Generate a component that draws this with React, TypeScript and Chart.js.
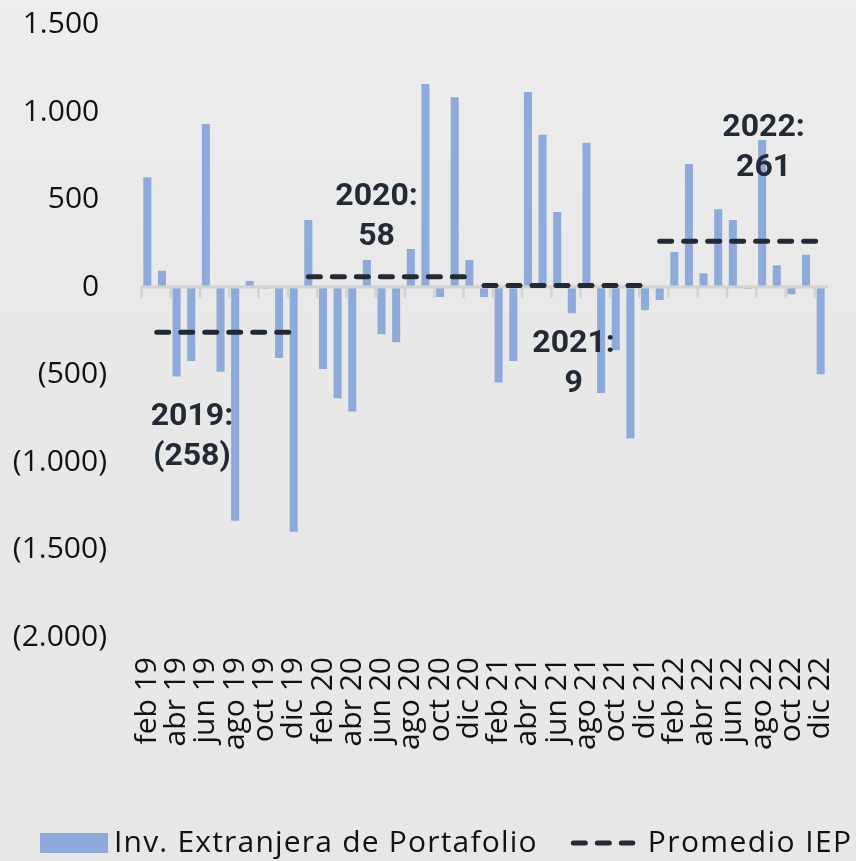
import React, { useEffect, useRef } from 'react';
import { Chart, registerables } from 'chart.js';

Chart.register(...registerables);

const categories = [
  'feb 19', 'mar 19', 'abr 19', 'may 19', 'jun 19', 'jul 19', 'ago 19', 'sep 19', 'oct 19', 'nov 19', 'dic 19',
  'ene 20', 'feb 20', 'mar 20', 'abr 20', 'may 20', 'jun 20', 'jul 20', 'ago 20', 'sep 20', 'oct 20', 'nov 20', 'dic 20',
  'ene 21', 'feb 21', 'mar 21', 'abr 21', 'may 21', 'jun 21', 'jul 21', 'ago 21', 'sep 21', 'oct 21', 'nov 21', 'dic 21',
  'ene 22', 'feb 22', 'mar 22', 'abr 22', 'may 22', 'jun 22', 'jul 22', 'ago 22', 'sep 22', 'oct 22', 'nov 22', 'dic 22',
];

const flows = [
  627, 93, -512, -423, 931, -484, -1335, 34, -8, -406, -1398,
  383, -469, -636, -712, 154, -270, -316, 217, 1160, -57, 1084, 154,
  -57, -545, -423, 1114, 870, 429, -150, 825, -606, -362, -865, -133,
  -74, 200, 703, 78, 444, 383, -10, 840, 124, -42, 185, -499,
];

const years = ['2019', '2020', '2021', '2022'];
const yearAverages = [-258, 58, 9, 261];

// where each year's average label sits (category index, value)
const annotationX = [3.05, 15.66, 29.12, 42.1];
const annotationY = [-743, 514, -326, 909];

const yMin = -2000;
const yMax = 1500;
const yStep = 500;

const barLabel = 'Inv. Extranjera de Portafolio';
const lineLabel = 'Promedio IEP';

const BAR_COLOR = '#8eaadb';
const LINE_COLOR = '#222a35';
const TEXT_COLOR = '#111111';
const FONT = "'Open Sans'";

function fmt(v: number): string {
  const s = String(Math.abs(v)).replace(/\B(?=(\d{3})+(?!\d))/g, '.');
  return v < 0 ? '(' + s + ')' : s;
}

const zeroAxisPlugin = {
  id: 'zeroAxis',
  afterDatasetDraw(chart: any, args: any) {
    if (args.index !== 0) return;
    const { ctx, chartArea, scales } = chart;
    const x = scales.x;
    const y0 = scales.y.getPixelForValue(0);
    ctx.save();
    ctx.strokeStyle = '#d2d2d2';
    ctx.lineWidth = 3;
    ctx.beginPath();
    ctx.moveTo(chartArea.left, y0);
    ctx.lineTo(chartArea.right, y0);
    ctx.stroke();
    ctx.lineWidth = 2.5;
    for (let i = 0; i < categories.length; i += 2) {
      const px = x.getPixelForValue(i - 0.5);
      ctx.beginPath();
      ctx.moveTo(px + 1.5, y0);
      ctx.lineTo(px + 1.5, y0 + 11);
      ctx.stroke();
    }
    ctx.restore();
  },
};

const annotationPlugin = {
  id: 'yearLabels',
  afterDatasetsDraw(chart: any) {
    const { ctx, scales } = chart;
    ctx.save();
    ctx.fillStyle = LINE_COLOR;
    ctx.font = 'bold 32px Roboto';
    ctx.textAlign = 'center';
    ctx.textBaseline = 'middle';
    years.forEach((yr, i) => {
      const px = scales.x.getPixelForValue(annotationX[i]);
      const py = scales.y.getPixelForValue(annotationY[i]);
      ctx.fillText(yr + ':', px, py);
      ctx.fillText(fmt(yearAverages[i]), px, py + 40);
    });
    ctx.restore();
  },
};

const legendPlugin = {
  id: 'customLegend',
  afterDraw(chart: any) {
    const { ctx } = chart;
    const ds = chart.data.datasets;
    const cy = 843;
    ctx.save();
    ctx.fillStyle = ds[0].backgroundColor;
    ctx.fillRect(40, cy - 10, 68, 20);
    ctx.font = `30px ${FONT}`;
    ctx.fillStyle = TEXT_COLOR;
    ctx.textBaseline = 'middle';
    ctx.textAlign = 'left';
    (ctx as any).letterSpacing = '1.2px';
    ctx.fillText(ds[0].label, 114, cy);
    const w1 = ctx.measureText(ds[0].label).width;
    const lx = 114 + w1 + 33;
    ctx.strokeStyle = ds[1].borderColor;
    ctx.lineWidth = 5;
    ctx.lineCap = 'round';
    ctx.setLineDash([12, 12]);
    ctx.beginPath();
    ctx.moveTo(lx + 2.5, cy);
    ctx.lineTo(lx + 62, cy);
    ctx.stroke();
    ctx.setLineDash([]);
    (ctx as any).letterSpacing = '1.4px';
    ctx.fillText(ds[1].label, lx + 77, cy);
    ctx.restore();
  },
};

export default function App() {
  const canvasRef = useRef<HTMLCanvasElement | null>(null);

  useEffect(() => {
    if (!canvasRef.current) return;
    const lineSets = years.map((yr, i) => ({
      type: 'line' as const,
      label: lineLabel,
      data: categories.map((c) => ('20' + c.slice(-2) === yr ? yearAverages[i] : null)),
      borderColor: LINE_COLOR,
      backgroundColor: LINE_COLOR,
      borderWidth: 5,
      borderDash: [12, 12],
      borderDashOffset: i === 0 ? 14.6 : 0,
      borderCapStyle: 'round' as const,
      pointRadius: 0,
      fill: false,
      spanGaps: false,
      order: 1,
    }));

    const chart = new Chart(canvasRef.current, {
      type: 'bar',
      data: {
        labels: categories,
        datasets: [
          {
            type: 'bar',
            label: barLabel,
            data: flows,
            backgroundColor: BAR_COLOR,
            categoryPercentage: 1,
            barPercentage: 0.55,
            order: 2,
          } as any,
          ...(lineSets as any[]),
        ],
      },
      options: {
        animation: false,
        responsive: true,
        maintainAspectRatio: false,
        layout: { padding: { top: 24.5, right: 28, bottom: 0, left: 0 } },
        plugins: {
          legend: { display: false },
          tooltip: { enabled: false },
        },
        scales: {
          x: {
            grid: { display: false, drawTicks: false },
            border: { display: false },
            ticks: {
              autoSkip: false,
              minRotation: 90,
              maxRotation: 90,
              padding: 20,
              color: TEXT_COLOR,
              font: { family: FONT, size: 30 },
              callback: (_v: any, i: number) => (i % 2 === 0 ? categories[i] : ''),
            },
            afterFit: (s: any) => {
              s.height = 224;
              s.paddingLeft = 0;
              s.paddingRight = 0;
            },
          },
          y: {
            min: yMin,
            max: yMax,
            grid: { display: false, drawTicks: false },
            border: { display: false },
            ticks: {
              stepSize: yStep,
              padding: 33,
              color: TEXT_COLOR,
              font: { family: FONT, size: 30 },
              callback: (v: any) => (Number(v) < 0 ? fmt(Number(v)) : fmt(Number(v)) + ' '),
            },
            afterFit: (s: any) => {
              s.width = 140;
              s.paddingTop = 0;
              s.paddingBottom = 0;
            },
          },
        },
      },
      plugins: [zeroAxisPlugin, annotationPlugin, legendPlugin],
    });
    return () => chart.destroy();
  }, []);

  return (
    <div
      style={{
        position: 'fixed',
        left: 0,
        top: 0,
        width: 856,
        height: 861,
        background: 'linear-gradient(#ededed, #e8e8e8 40%, #e7e7e7)',
      }}
    >
      <canvas ref={canvasRef} />
    </div>
  );
}
